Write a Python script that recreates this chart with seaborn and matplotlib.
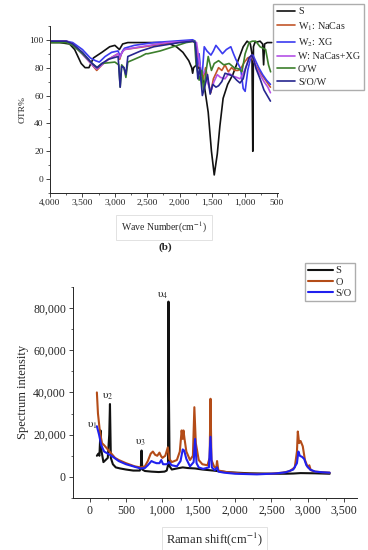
import numpy as np
import pandas as pd
import matplotlib
matplotlib.use("Agg")
import matplotlib.pyplot as plt
from matplotlib.ticker import FuncFormatter, MultipleLocator
import seaborn as sns

# ---- FTIR panel data (wave number cm-1, OTR%) ----
s_wn = [4000, 3850, 3700, 3620, 3520, 3460, 3400, 3330, 3200, 3080, 3000, 2930, 2880, 2800, 2600,
        2300, 2150, 2050, 1950, 1860, 1815, 1800, 1785, 1740, 1680, 1620, 1560, 1510, 1467, 1420,
        1380, 1330, 1260, 1180, 1100, 1020, 960, 910, 885, 872, 862, 840, 760, 720, 705, 690, 650, 580]
s_otr = [98, 98, 97, 93, 83, 80, 80, 87, 91, 95, 96, 93, 97, 98, 98,
         98, 97, 95, 91, 85, 80, 76, 80, 82, 78, 67, 48, 20, 3, 18,
         38, 58, 68, 75, 85, 95, 99, 97, 90, 20, 95, 98, 99, 97, 82, 97, 98, 98]

w1_wn = [4000, 3750, 3650, 3500, 3350, 3280, 3200, 3100, 2950, 2925, 2900, 2860, 2700, 2400, 2100,
         1800, 1760, 1720, 1680, 1640, 1600, 1560, 1520, 1480, 1440, 1400, 1350, 1300, 1250, 1200,
         1150, 1100, 1050, 1000, 950, 900, 870, 830, 780, 720, 660, 600]
w1_otr = [99, 99, 97, 90, 82, 78, 82, 86, 90, 86, 90, 93, 94, 96, 98,
          99, 98, 88, 76, 72, 80, 70, 62, 72, 76, 80, 78, 82, 77, 80,
          78, 78, 80, 84, 87, 88, 86, 82, 78, 74, 70, 66]

w2_wn = [4000, 3750, 3650, 3500, 3380, 3300, 3240, 3150, 3050, 2950, 2920, 2880, 2850, 2700, 2400,
         2100, 1800, 1760, 1725, 1700, 1660, 1621, 1580, 1518, 1480, 1441, 1390, 1340, 1280, 1211,
         1170, 1134, 1090, 1058, 1020, 990, 950, 900, 870, 830, 780, 720, 660, 600]
w2_otr = [99, 99, 98, 93, 87, 85, 84, 88, 91, 92, 88, 92, 94, 96, 98,
          99, 100, 99, 81, 90, 70, 95, 92, 89, 92, 96, 93, 90, 93, 95,
          90, 86, 82, 79, 65, 63, 78, 88, 89, 85, 80, 75, 71, 68]

wm_wn = [4000, 3750, 3650, 3450, 3330, 3280, 3200, 3100, 2950, 2925, 2890, 2850, 2600, 2200,
         1800, 1740, 1700, 1660, 1610, 1560, 1520, 1470, 1420, 1370, 1300, 1240, 1180, 1120,
         1070, 1030, 980, 930, 890, 860, 820, 760, 700, 640, 600]
wm_otr = [99, 99, 97, 87, 81, 79, 82, 86, 90, 87, 91, 93, 95, 98,
          99, 98, 85, 74, 78, 68, 63, 70, 75, 73, 72, 76, 74, 73,
          72, 75, 80, 86, 89, 86, 80, 75, 70, 66, 62]

ow_wn = [4000, 3750, 3650, 3500, 3350, 3280, 3200, 3000, 2940, 2918, 2895, 2860, 2830, 2800, 2600,
         2520, 2505, 2490, 2300, 2100, 1900, 1770, 1748, 1700, 1660, 1630, 1600, 1560, 1510, 1467,
         1400, 1320, 1237, 1160, 1083, 1040, 990, 930, 880, 827, 760, 674, 630, 597]
ow_otr = [98, 98, 96, 90, 83, 80, 83, 84, 82, 66, 82, 80, 73, 84, 88,
          90, 90, 90, 92, 95, 98, 99, 83, 71, 78, 63, 75, 88, 78, 83,
          85, 82, 83, 80, 79, 77, 90, 98, 99, 99, 95, 93, 82, 77]

sow_wn = [4000, 3750, 3650, 3500, 3350, 3270, 3200, 3100, 2950, 2918, 2895, 2860, 2830, 2800, 2600,
          2400, 2000, 1800, 1760, 1720, 1690, 1650, 1610, 1570, 1530, 1490, 1440, 1400, 1350,
          1300, 1240, 1180, 1120, 1070, 1020, 980, 930, 890, 860, 820, 760, 700, 650, 600]
sow_otr = [99, 99, 97, 91, 83, 80, 83, 86, 88, 66, 81, 80, 75, 88, 92,
           95, 98, 99, 98, 72, 80, 60, 67, 75, 61, 68, 66, 67, 70,
           76, 75, 74, 71, 69, 72, 80, 87, 89, 86, 79, 72, 64, 60, 56]

ftir_series = [
    ("S", s_wn, s_otr, "#111111"),
    ("W$_1$: NaCas", w1_wn, w1_otr, "#c2562a"),
    ("W$_2$: XG", w2_wn, w2_otr, "#3b3bf0"),
    ("W: NaCas+XG", wm_wn, wm_otr, "#b452e6"),
    ("O/W", ow_wn, ow_otr, "#3c7f2c"),
    ("S/O/W", sow_wn, sow_otr, "#26268f"),
]

# ---- Raman panel data (shift cm-1, intensity) ----
rs_x = [100, 120, 135, 150, 165, 190, 220, 250, 270, 280, 292, 320, 360, 420, 500, 600, 690,
        705, 714, 724, 760, 850, 950, 1030, 1060, 1078, 1084, 1090, 1100, 1130, 1200, 1280,
        1350, 1450, 1550, 1700, 1900, 2200, 2500, 2700, 2800, 2900, 3100, 3300]
rs_y = [10000, 11000, 10000, 22000, 12000, 7000, 8000, 9000, 20000, 34500, 9000, 6000, 4500,
        4000, 3500, 3000, 3000, 5000, 12500, 3500, 2800, 2500, 2300, 2500, 3000, 5500, 83000,
        40000, 5000, 3500, 4000, 4500, 4200, 4000, 3500, 3000, 2200, 1700, 1500, 1500, 1600,
        1800, 1700, 1500]

ro_x = [100, 115, 140, 170, 200, 250, 300, 350, 400, 500, 580, 620, 700, 760, 800, 840, 870,
        900, 930, 960, 980, 1000, 1040, 1075, 1095, 1130, 1200, 1240, 1265, 1280, 1290, 1305,
        1330, 1380, 1420, 1440, 1460, 1500, 1550, 1620, 1650, 1662, 1675, 1710, 1740, 1752,
        1770, 1900, 2100, 2300, 2500, 2650, 2750, 2820, 2850, 2862, 2880, 2900, 2930, 2960,
        3000, 3020, 3040, 3100, 3200, 3300]
ro_y = [40000, 30000, 22000, 16000, 15000, 13000, 11000, 9000, 8000, 6500, 5500, 5000, 4500,
        5000, 7500, 11000, 12000, 10500, 10000, 11500, 10000, 9000, 10000, 14000, 8500, 7000,
        8000, 12000, 22000, 18000, 22000, 18000, 12000, 8000, 10000, 33000, 16000, 8000, 6000,
        5500, 9000, 37000, 8000, 5000, 4000, 7500, 3000, 2200, 1600, 1400, 1500, 2000, 2700,
        4500, 12000, 21500, 16000, 17000, 14500, 8000, 4500, 5500, 3200, 2500, 2200, 2000]

rso_x = [100, 130, 160, 200, 250, 300, 400, 500, 600, 700, 760, 800, 850, 880, 920, 960, 985,
         1010, 1060, 1090, 1130, 1200, 1250, 1280, 1300, 1330, 1380, 1430, 1450, 1470, 1500,
         1560, 1640, 1662, 1680, 1720, 1752, 1770, 1850, 2000, 2300, 2550, 2700, 2800, 2850,
         2870, 2890, 2920, 2950, 2980, 3030, 3100, 3200, 3300]
rso_y = [24000, 20000, 15000, 12000, 11000, 10000, 7500, 6000, 5000, 4000, 4200, 5500, 7500,
         7000, 6500, 6500, 8000, 6000, 6000, 7000, 5500, 5000, 7500, 13000, 12500, 8500, 5000,
         7000, 18000, 6500, 4500, 3800, 4500, 19000, 4500, 3200, 4500, 2500, 2000, 1500, 1200,
         1600, 2200, 3500, 6500, 12000, 10000, 9500, 8500, 5500, 3500, 2500, 2200, 2000]

raman_series = [
    ("S", rs_x, rs_y, "#111111"),
    ("O", ro_x, ro_y, "#b44c18"),
    ("S/O", rso_x, rso_y, "#2020ee"),
]

peak_labels = ["υ$_1$", "υ$_2$", "υ$_3$", "υ$_4$"]
peak_pos_x = [40, 250, 700, 1010]
peak_pos_y = [24500, 38000, 16500, 86000]

# ---- style ----
sns.set_style("ticks")
plt.rcParams["font.family"] = ["Liberation Serif", "DejaVu Serif"]
plt.rcParams["mathtext.fontset"] = "stix"
plt.rcParams["xtick.direction"] = "out"
plt.rcParams["ytick.direction"] = "out"

comma_fmt = FuncFormatter(lambda v, p: f"{v:,.0f}")

fig = plt.figure(figsize=(3.68, 5.5), dpi=100)

# top panel
ax1 = fig.add_axes([0.136, 0.649, 0.620, 0.304])
for name, xs, ys, col in ftir_series:
    df = pd.DataFrame({"wn": xs, "otr": ys})
    sns.lineplot(data=df, x="wn", y="otr", ax=ax1, color=col, lw=1.2,
                 label=name, sort=False, estimator=None)
ax1.set_xlim(4000, 480)
ax1.set_ylim(-10, 110)
ax1.xaxis.set_major_locator(MultipleLocator(500))
ax1.xaxis.set_minor_locator(MultipleLocator(250))
ax1.yaxis.set_major_locator(MultipleLocator(20))
ax1.yaxis.set_minor_locator(MultipleLocator(10))
ax1.xaxis.set_major_formatter(comma_fmt)
ax1.tick_params(labelsize=6.8, length=3, width=0.6, pad=1.5)
ax1.tick_params(which="minor", length=1.5, width=0.5)
for sp in ["top", "right"]:
    ax1.spines[sp].set_visible(False)
for sp in ["left", "bottom"]:
    ax1.spines[sp].set_linewidth(0.7)
ax1.set_ylabel("OTR%", fontsize=6.8, labelpad=2)
ax1.set_xlabel("Wave Number(cm$^{-1}$)", fontsize=7, labelpad=9,
               bbox=dict(facecolor="none", edgecolor="#dddddd", lw=0.6, pad=3.5))
ax1.legend(loc="upper left", bbox_to_anchor=(0.742, 0.993), bbox_transform=fig.transFigure,
           fontsize=7.3, frameon=True, fancybox=False, edgecolor="#999999",
           handlelength=1.8, handletextpad=0.3, labelspacing=0.35, borderpad=0.35,
           borderaxespad=0)
fig.text(0.448, 1 - 247 / 550, "(b)", ha="center", va="center", fontsize=8, fontweight="bold")

# bottom panel
ax2 = fig.add_axes([0.198, 0.0945, 0.772, 0.384])
for name, xs, ys, col in raman_series:
    df = pd.DataFrame({"shift": xs, "intensity": ys})
    sns.lineplot(data=df, x="shift", y="intensity", ax=ax2, color=col, lw=1.5,
                 label=name, sort=False, estimator=None)
for lab, px, py in zip(peak_labels, peak_pos_x, peak_pos_y):
    ax2.text(px, py, lab, fontsize=8, ha="center", va="center")
ax2.set_xlim(-230, 3675)
ax2.set_ylim(-10000, 90000)
ax2.xaxis.set_major_locator(MultipleLocator(500))
ax2.xaxis.set_minor_locator(MultipleLocator(250))
ax2.yaxis.set_major_locator(MultipleLocator(20000))
ax2.yaxis.set_minor_locator(MultipleLocator(10000))
ax2.xaxis.set_major_formatter(comma_fmt)
ax2.yaxis.set_major_formatter(comma_fmt)
ax2.tick_params(labelsize=8.5, length=3, width=0.6, pad=2)
ax2.tick_params(which="minor", length=1.5, width=0.5)
for sp in ["top", "right"]:
    ax2.spines[sp].set_visible(False)
for sp in ["left", "bottom"]:
    ax2.spines[sp].set_linewidth(0.7)
ax2.set_ylabel("Spectrum intensity", fontsize=9, labelpad=3)
ax2.set_xlabel("Raman shift(cm$^{-1}$)", fontsize=9, labelpad=10,
               bbox=dict(facecolor="none", edgecolor="#dddddd", lw=0.6, pad=3))
ax2.legend(loc="upper left", bbox_to_anchor=(0.829, 0.522), bbox_transform=fig.transFigure,
           fontsize=7.5, frameon=True, fancybox=False, edgecolor="#999999",
           handlelength=2.4, handletextpad=0.2, labelspacing=0.2, borderpad=0.3,
           borderaxespad=0)

fig.savefig("out.png", dpi=100)
